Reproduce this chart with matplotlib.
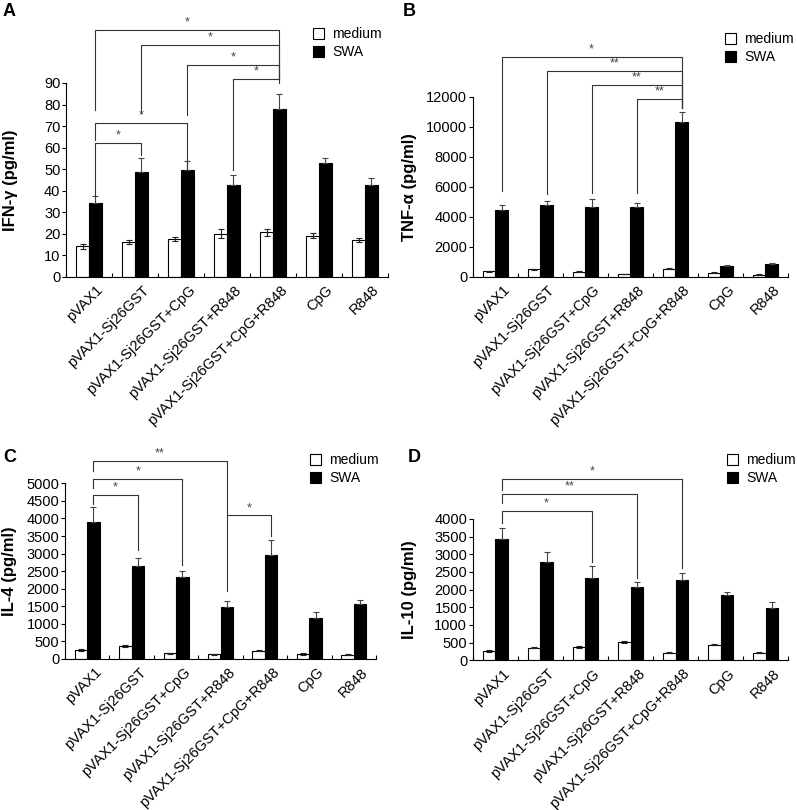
import matplotlib
matplotlib.use("Agg")
import matplotlib.pyplot as plt
import matplotlib.transforms as mtrans
from matplotlib.patches import Patch
import numpy as np

plt.rcParams['font.family'] = ['Liberation Sans', 'DejaVu Sans']

groups = ['pVAX1', 'pVAX1-Sj26GST', 'pVAX1-Sj26GST+CpG', 'pVAX1-Sj26GST+R848',
          'pVAX1-Sj26GST+CpG+R848', 'CpG', 'R848']

# A: IFN-gamma
ifn_med = [14.1, 16.3, 17.5, 20.0, 20.6, 19.1, 16.9]
ifn_med_err = [1.2, 0.9, 1.0, 2.2, 1.5, 1.0, 1.0]
ifn_swa = [34.1, 48.5, 49.6, 42.6, 77.8, 52.6, 42.6]
ifn_swa_err = [3.4, 6.5, 4.0, 4.5, 7.3, 2.7, 3.1]
# (left group, right group, line y, left leg bottom, right leg bottom, label)
ifn_sig = [(0, 4, 114.7, 77.5, 92, '*'), (1, 4, 107.8, 76.1, 92, '*'),
           (2, 4, 98.5, 75.2, 92, '*'), (3, 4, 92, 49.6, 90, '*'),
           (0, 1, 62.2, 37.5, 56.6, '*'), (0, 2, 71.6, 63.6, 49.6, '*')]

# B: TNF-alpha
tnf_med = [350, 500, 330, 170, 520, 260, 130]
tnf_med_err = [20, 40, 50, 20, 30, 30, 30]
tnf_swa = [4450, 4750, 4620, 4620, 10300, 720, 820]
tnf_swa_err = [350, 300, 550, 320, 680, 50, 90]
tnf_sig = [(0, 4, 14667, 5700, 11227, '*'), (1, 4, 13733, 5500, 11227, '**'),
           (2, 4, 12780, 5600, 11227, '**'), (3, 4, 11827, 5600, 11227, '**')]

# C: IL-4
il4_med = [248, 362, 162, 133, 229, 143, 124]
il4_med_err = [25, 30, 20, 15, 15, 15, 15]
il4_swa = [3887, 2640, 2320, 1470, 2962, 1170, 1575]
il4_swa_err = [434, 226, 175, 180, 434, 170, 113]
il4_sig = [(0, 3, 5641, 5339, 1949, '**'), (0, 2, 5133, 4859, 2684, '*'),
           (0, 1, 4669, 4400, 3107, '*'), (3, 4, 4088, 4088, 3500, '*')]

# D: IL-10
il10_med = [260, 350, 370, 525, 220, 440, 215]
il10_med_err = [30, 15, 35, 25, 15, 15, 15]
il10_swa = [3434, 2792, 2321, 2085, 2274, 1849, 1472]
il10_swa_err = [302, 265, 349, 141, 207, 76, 170]
il10_sig = [(0, 4, 5144, 4825, 2606, '*'), (0, 3, 4720, 4448, 2331, '**'),
            (0, 2, 4238, 3881, 2793, '*')]

fig = plt.figure(figsize=(7.97, 8.10), dpi=100)


def panel(rect, med, med_err, swa, swa_err, sig, ylim, ystep, ylabel, letter,
          letter_xy, ylab_x, leg_xy):
    ax = fig.add_axes(rect)
    x = np.arange(len(groups))
    w = 0.28
    ax.bar(x - w / 2, med, w, color='white', edgecolor='black', linewidth=0.8,
           yerr=med_err, error_kw=dict(ecolor='#222222', elinewidth=0.8, capsize=2, capthick=0.8))
    ax.bar(x + w / 2, swa, w, color='black', edgecolor='black', linewidth=0.8,
           yerr=[np.zeros(len(swa)), swa_err],
           error_kw=dict(ecolor='#444444', elinewidth=0.8, capsize=2, capthick=0.8))
    ax.set_xlim(-0.5, len(groups) - 0.5)
    ax.set_ylim(0, ylim)
    ax.set_yticks(np.arange(0, ylim + 1, ystep))
    ax.tick_params(axis='y', direction='out', length=3, width=0.8, labelsize=10.5, pad=1)
    ax.set_xticks(x)
    ax.set_xticklabels(groups, rotation=45, ha='right', rotation_mode='anchor', fontsize=10.5)
    ax.tick_params(axis='x', length=0, pad=3)
    shift = mtrans.ScaledTranslation(0.07, -0.02, fig.dpi_scale_trans)
    for t in ax.get_xticklabels():
        t.set_transform(t.get_transform() + shift)
    ax.set_xticks(np.arange(-0.5, len(groups)), minor=True)
    ax.tick_params(axis='x', which='minor', direction='in', length=3, width=0.8)
    for s in ['top', 'right']:
        ax.spines[s].set_visible(False)
    for s in ['left', 'bottom']:
        ax.spines[s].set_linewidth(0.8)
    ax.set_ylabel(ylabel, fontsize=12, fontweight='bold')
    ax.yaxis.set_label_coords(ylab_x, 0.5)

    for l, r, yl, lb, rb, lab in sig:
        xl = l + w / 2
        xr = r + w / 2
        ax.plot([xl, xl, xr, xr], [lb, yl, yl, rb], color='#333333', lw=0.8,
                clip_on=False)
        ax.annotate(lab, ((xl + xr) / 2, yl), xytext=(0, 1), textcoords='offset points',
                    ha='center', va='bottom', fontsize=9, color='#444444',
                    annotation_clip=False)

    handles = [Patch(facecolor='white', edgecolor='black', linewidth=0.8),
               Patch(facecolor='black', edgecolor='black', linewidth=0.8)]
    ax.legend(handles, ['medium', 'SWA'], loc='upper left', frameon=False,
              bbox_to_anchor=(leg_xy[0] / 797, 1 - leg_xy[1] / 810),
              bbox_transform=fig.transFigure, fontsize=10, handlelength=0.78,
              handleheight=0.85, handletextpad=0.6, labelspacing=0.3,
              borderpad=0, borderaxespad=0)
    fig.text(letter_xy[0] / 797, 1 - letter_xy[1] / 810, letter, fontsize=13,
             fontweight='bold', ha='left', va='center')
    return ax


panel([66 / 797, 1 - 276.7 / 810, 322 / 797, 193.7 / 810], ifn_med, ifn_med_err,
      ifn_swa, ifn_swa_err, ifn_sig, 90, 10, 'IFN-γ (pg/ml)', 'A', (3, 12), -0.15,
      (313, 27))
panel([472.7 / 797, 1 - 276.7 / 810, 315.3 / 797, 180 / 810], tnf_med, tnf_med_err,
      tnf_swa, tnf_swa_err, tnf_sig, 12000, 2000, 'TNF-α (pg/ml)', 'B', (403, 12), -0.177,
      (725, 32))
panel([65 / 797, 1 - 659 / 810, 311 / 797, 175.7 / 810], il4_med, il4_med_err,
      il4_swa, il4_swa_err, il4_sig, 5000, 500, 'IL-4 (pg/ml)', 'C', (3, 457), -0.154,
      (310, 453))
panel([472.7 / 797, 1 - 660.3 / 810, 315.6 / 797, 141.3 / 810], il10_med, il10_med_err,
      il10_swa, il10_swa_err, il10_sig, 4000, 500, 'IL-10 (pg/ml)', 'D', (408, 457), -0.176,
      (727, 453))

fig.savefig('out.png', dpi=100)
